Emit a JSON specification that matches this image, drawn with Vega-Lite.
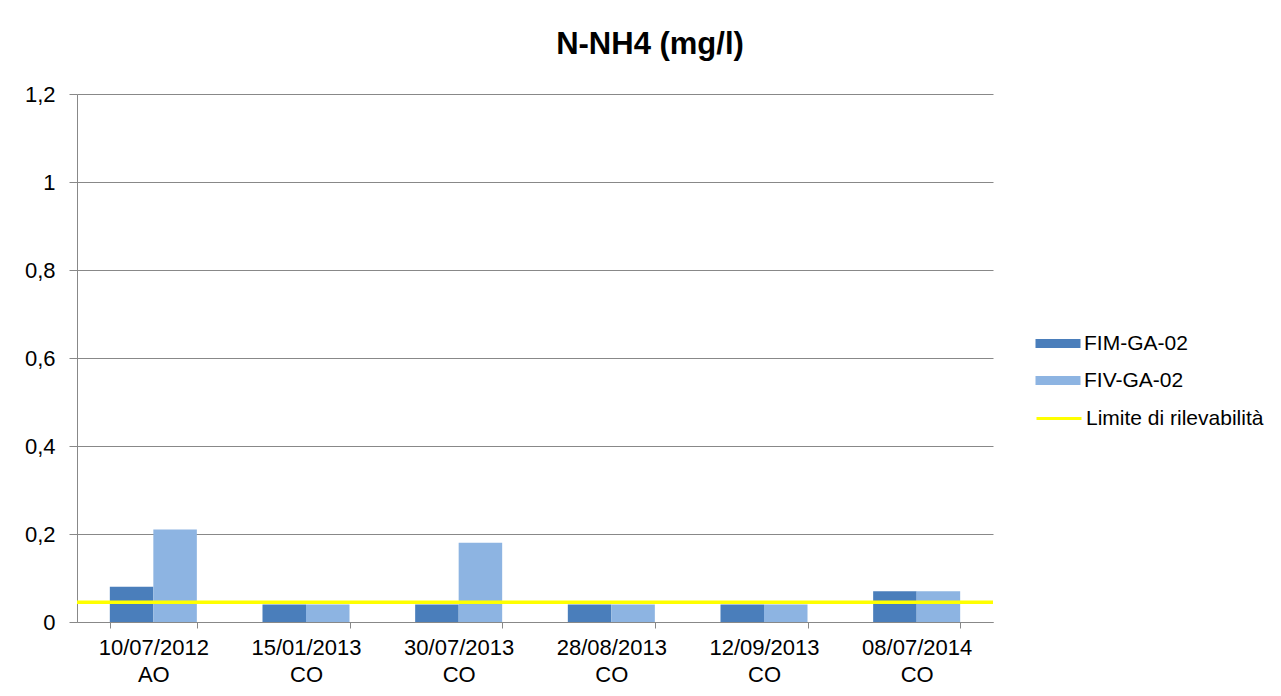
{
  "$schema": "https://vega.github.io/schema/vega-lite/v6.json",
  "autosize": {"type": "none"},
  "width": 916,
  "height": 528,
  "padding": {"left": 77, "top": 94, "right": 288, "bottom": 74},
  "background": "white",
  "title": {"text": "N-NH4 (mg/l)", "font": "Liberation Sans", "fontSize": 31, "fontWeight": "bold", "color": "#000000", "anchor": "middle", "dx": 115, "offset": 22},
  "config": {"view": {"stroke": null}, "font": "Liberation Sans"},
  "datasets": {
    "bars": [
      {"date": "10/07/2012 AO", "series": "FIM-GA-02", "value": 0.08},
      {"date": "10/07/2012 AO", "series": "FIV-GA-02", "value": 0.21},
      {"date": "15/01/2013 CO", "series": "FIM-GA-02", "value": 0.04},
      {"date": "15/01/2013 CO", "series": "FIV-GA-02", "value": 0.04},
      {"date": "30/07/2013 CO", "series": "FIM-GA-02", "value": 0.04},
      {"date": "30/07/2013 CO", "series": "FIV-GA-02", "value": 0.18},
      {"date": "28/08/2013 CO", "series": "FIM-GA-02", "value": 0.04},
      {"date": "28/08/2013 CO", "series": "FIV-GA-02", "value": 0.04},
      {"date": "12/09/2013 CO", "series": "FIM-GA-02", "value": 0.04},
      {"date": "12/09/2013 CO", "series": "FIV-GA-02", "value": 0.04},
      {"date": "08/07/2014 CO", "series": "FIM-GA-02", "value": 0.07},
      {"date": "08/07/2014 CO", "series": "FIV-GA-02", "value": 0.07}
    ],
    "limit": [
      {"series": "Limite di rilevabilità", "value": 0.045}
    ]
  },
  "layer": [
    {
      "data": {"name": "bars"},
      "mark": {"type": "bar"},
      "encoding": {
        "x": {
          "field": "date", "type": "nominal", "sort": null,
          "scale": {"paddingInner": 0.43, "paddingOuter": 0.215},
          "axis": {
            "title": null, "labelExpr": "split(datum.label, ' ')", "labelFontSize": 22, "labelLineHeight": 27,
            "labelColor": "#000000", "tickBand": "extent", "tickSize": 6, "tickColor": "#888888",
            "domainColor": "#888888", "labelPadding": 9, "labelAngle": 0, "grid": false
          }
        },
        "xOffset": {"field": "series", "type": "nominal", "sort": null},
        "y": {
          "field": "value", "type": "quantitative",
          "scale": {"domain": [0, 1.2]},
          "axis": {
            "title": null, "values": [0, 0.2, 0.4, 0.6, 0.8, 1, 1.2],
            "labelExpr": "replace(format(datum.value, '.1~f'), '.', ',')",
            "labelFontSize": 22, "labelColor": "#000000", "tickSize": 8, "tickColor": "#888888",
            "domainColor": "#888888", "gridColor": "#888888", "labelPadding": 14
          }
        },
        "fill": {
          "field": "series", "type": "nominal",
          "scale": {"domain": ["FIM-GA-02", "FIV-GA-02"], "range": ["#4A7EBB", "#8DB4E2"]},
          "legend": {
            "title": null, "orient": "none", "legendX": 958, "legendY": 239,
            "symbolType": "M-1,-0.45H3.5V0.45H-1Z", "symbolSize": 400, "symbolStrokeWidth": 0,
            "symbolOpacity": 1, "labelLimit": 0,
            "labelFontSize": 21, "labelColor": "#000000", "labelOffset": 28, "rowPadding": 15, "padding": 0
          }
        }
      }
    },
    {
      "data": {"name": "limit"},
      "mark": {"type": "rule", "strokeWidth": 3.5},
      "encoding": {
        "y": {"field": "value", "type": "quantitative"},
        "stroke": {
          "field": "series", "type": "nominal",
          "scale": {"range": ["#FFFF00"]},
          "legend": {
            "title": null, "orient": "none", "legendX": 958, "legendY": 313,
            "symbolType": "M-1,0H3.5", "symbolSize": 400, "symbolStrokeWidth": 3, "labelLimit": 0,
            "labelFontSize": 21, "labelColor": "#000000", "labelOffset": 28, "padding": 0
          }
        }
      }
    }
  ]
}
